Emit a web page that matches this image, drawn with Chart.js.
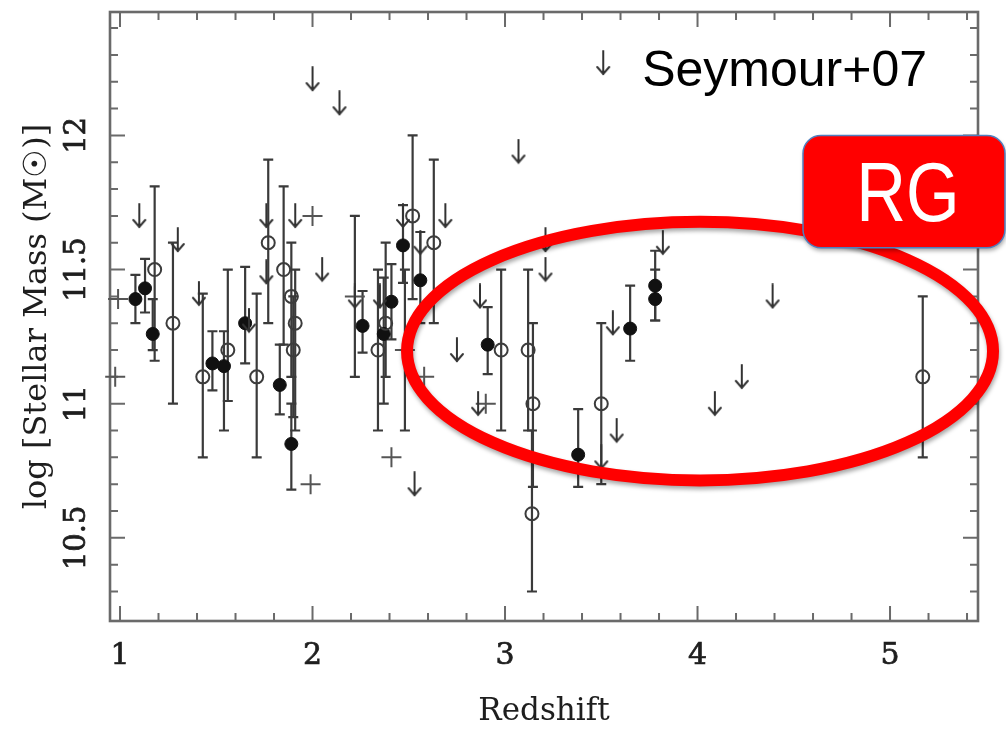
<!DOCTYPE html>
<html>
<head>
<meta charset="utf-8">
<script src="https://cdn.jsdelivr.net/npm/chart.js@4.4.0/dist/chart.umd.min.js"></script>
<style>
  html, body { margin: 0; padding: 0; background: #fff; }
</style>
</head>
<body>
<canvas id="massChart" width="1006" height="731"></canvas>
<script>
// Axis ranges and ticks
const xRange = [0.948, 5.457];
const yRange = [10.19, 12.46];
const xMajor = [1, 2, 3, 4, 5];
const xTickLabels = ['1', '2', '3', '4', '5'];
const xMinor = [1.2, 1.4, 1.6, 1.8, 2.2, 2.4, 2.6, 2.8, 3.2, 3.4, 3.6, 3.8, 4.2, 4.4, 4.6, 4.8, 5.2, 5.4];
const yMajor = [10.5, 11, 11.5, 12];
const yTickLabels = ['10.5', '11', '11.5', '12'];
const yMinor = [10.3, 10.4, 10.6, 10.7, 10.8, 10.9, 11.1, 11.2, 11.3, 11.4, 11.6, 11.7, 11.8, 11.9, 12.1, 12.2, 12.3, 12.4];

// Filled circles (with error bars)
const filledZ    = [1.08, 1.13, 1.17, 1.48, 1.54, 1.65, 1.83, 1.89, 2.26, 2.37, 2.41, 2.47, 2.56, 2.91, 3.38, 3.65, 3.78, 3.78];
const filledMass = [11.39, 11.43, 11.26, 11.15, 11.14, 11.30, 11.07, 10.85, 11.29, 11.26, 11.38, 11.59, 11.46, 11.22, 10.81, 11.28, 11.44, 11.39];
const filledLo   = [11.30, 11.34, 11.20, 11.05, 10.90, 11.15, 10.96, 10.68, 11.19, 11.00, 11.24, 11.45, 11.30, 11.11, 10.69, 11.16, 11.31, 11.31];
const filledHi   = [11.48, 11.54, 11.39, 11.27, 11.27, 11.51, 11.22, 11.00, 11.42, 11.47, 11.52, 11.74, 11.64, 11.36, 10.98, 11.44, 11.57, 11.50];

// Open circles (with error bars)
const openZ    = [1.18, 1.275, 1.43, 1.56, 1.71, 1.77, 1.85, 1.89, 1.91, 1.90, 2.34, 2.38, 2.52, 2.63, 2.98, 3.12, 3.145, 3.14, 3.50, 5.17];
const openMass = [11.50, 11.30, 11.10, 11.20, 11.10, 11.60, 11.50, 11.40, 11.30, 11.20, 11.20, 11.30, 11.70, 11.60, 11.20, 11.20, 11.00, 10.59, 11.00, 11.10];
const openLo   = [11.16, 11.00, 10.80, 11.01, 10.80, 11.30, 11.22, 11.10, 10.90, 10.95, 10.90, 11.10, 11.39, 11.30, 10.90, 10.90, 10.69, 10.30, 10.70, 10.80];
const openHi   = [11.81, 11.60, 11.41, 11.50, 11.41, 11.91, 11.81, 11.60, 11.50, 11.40, 11.50, 11.60, 12.00, 11.91, 11.50, 11.50, 11.30, 10.90, 11.30, 11.40];

// Plus signs (two of them carry error bars)
const plusZ    = [0.99, 0.975, 2.00, 1.99, 2.41, 2.58, 2.90, 2.22, 2.48];
const plusMass = [11.39, 11.10, 11.70, 10.70, 10.80, 11.10, 11.00, 11.40, 11.20];
const plusLo   = [null, null, null, null, null, null, null, 11.10, 10.90];
const plusHi   = [null, null, null, null, null, null, null, 11.70, 11.50];

// Upper limits (arrows)
const limitZ    = [1.10, 1.30, 1.41, 1.67, 1.76, 1.76, 1.91, 2.05, 2.00, 2.14, 2.22, 2.35, 2.47, 2.56, 2.69, 2.53, 2.75, 2.87, 2.86, 3.07, 3.21, 3.21, 3.50, 3.58, 3.56, 3.82, 4.39, 4.23, 4.09];
const limitMass = [11.70, 11.61, 11.41, 11.31, 11.70, 11.49, 11.70, 11.50, 12.21, 12.12, 11.40, 11.40, 11.70, 11.60, 11.70, 10.70, 11.20, 11.40, 11.00, 11.94, 11.61, 11.50, 10.80, 10.90, 11.30, 11.60, 11.40, 11.10, 11.00];

// Overlay annotations (data units)
const legendAt = { z: 3.51, mass: 12.27, text: 'Seymour+07' };
const ringAt = { z: 4.013, mass: 11.196, rz: 1.522, rmass: 0.482 };
const boxAt = { z0: 4.548, z1: 5.597, mass0: 12.0, mass1: 11.581, text: 'RG' };

const ink = '#1e1e1e';
const serif = 'DejaVu Serif';

function toPoints(xs, ys) {
    return xs.map((v, i) => ({ x: v, y: ys[i] }));
}

function makeArrow() {
    const c = document.createElement('canvas');
    c.width = 16; c.height = 26;
    const g = c.getContext('2d');
    g.strokeStyle = '#333';
    g.lineWidth = 2;
    g.lineCap = 'round';
    g.beginPath(); g.moveTo(8, 1); g.lineTo(8, 24); g.stroke();
    g.beginPath(); g.moveTo(2, 17); g.lineTo(8, 24); g.lineTo(14, 17); g.stroke();
    return c;
}
const arrowImg = makeArrow();

// error bars, drawn under the markers
const errorBars = {
    id: 'errorBars',
    beforeDatasetsDraw(chart) {
        const { ctx, scales: { x, y } } = chart;
        ctx.save();
        ctx.strokeStyle = '#3a3a3a';
        ctx.lineWidth = 2.2;
        chart.data.datasets.forEach(ds => {
            if (!ds.errLo) return;
            ds.data.forEach((p, i) => {
                const lo = ds.errLo[i], hi = ds.errHi[i];
                if (lo == null || hi == null) return;
                const px = x.getPixelForValue(p.x);
                const top = y.getPixelForValue(hi);
                const bot = y.getPixelForValue(lo);
                ctx.beginPath();
                ctx.moveTo(px, top); ctx.lineTo(px, bot);
                ctx.moveTo(px - 5, top); ctx.lineTo(px + 5, top);
                ctx.moveTo(px - 5, bot); ctx.lineTo(px + 5, bot);
                ctx.stroke();
            });
        });
        ctx.restore();
    }
};

// box round the plot with inward ticks on all four sides
const frameTicks = {
    id: 'frameTicks',
    beforeDatasetsDraw(chart) {
        const { ctx, chartArea: a, scales: { x, y } } = chart;
        ctx.save();
        ctx.strokeStyle = '#6a6a6a';
        ctx.lineWidth = 2;
        const tick = (vals, len) => {
            vals.forEach(v => {
                const px = x.getPixelForValue(v);
                ctx.moveTo(px, a.bottom); ctx.lineTo(px, a.bottom - len);
                ctx.moveTo(px, a.top); ctx.lineTo(px, a.top + len);
            });
        };
        const ytick = (vals, len) => {
            vals.forEach(v => {
                const py = y.getPixelForValue(v);
                ctx.moveTo(a.left, py); ctx.lineTo(a.left + len, py);
                ctx.moveTo(a.right, py); ctx.lineTo(a.right - len, py);
            });
        };
        ctx.beginPath();
        tick(xMajor, 15); tick(xMinor, 8);
        ytick(yMajor, 15); ytick(yMinor, 8);
        ctx.stroke();
        ctx.lineWidth = 2.6;
        ctx.strokeRect(a.left, a.top, a.right - a.left, a.bottom - a.top);
        ctx.restore();
    }
};

// red ring, RG box and the Seymour+07 label
const overlay = {
    id: 'overlay',
    afterDraw(chart) {
        const { ctx, scales: { x, y } } = chart;
        ctx.save();

        // legend arrow + text
        const lx = x.getPixelForValue(legendAt.z), ly = y.getPixelForValue(legendAt.mass);
        ctx.drawImage(arrowImg, lx - 8, ly - 13);
        ctx.fillStyle = '#000';
        ctx.font = '50px "Liberation Sans"';
        ctx.textBaseline = 'alphabetic';
        ctx.fillText(legendAt.text, lx + 39, ly + 23);

        // ellipse
        const cx = x.getPixelForValue(ringAt.z), cy = y.getPixelForValue(ringAt.mass);
        const rx = x.getPixelForValue(ringAt.z + ringAt.rz) - cx;
        const ry = cy - y.getPixelForValue(ringAt.mass + ringAt.rmass);
        ctx.shadowColor = 'rgba(0,0,0,0.35)';
        ctx.shadowBlur = 4; ctx.shadowOffsetX = 1; ctx.shadowOffsetY = 3;
        ctx.strokeStyle = '#ff0000';
        ctx.lineWidth = 12;
        ctx.beginPath();
        ctx.ellipse(cx, cy, rx, ry, 0, 0, Math.PI * 2);
        ctx.stroke();

        // RG box
        const bx0 = x.getPixelForValue(boxAt.z0), bx1 = x.getPixelForValue(boxAt.z1);
        const by0 = y.getPixelForValue(boxAt.mass0), by1 = y.getPixelForValue(boxAt.mass1);
        ctx.beginPath();
        ctx.roundRect(bx0, by0, bx1 - bx0, by1 - by0, 18);
        ctx.fillStyle = '#ff0000';
        ctx.fill();
        ctx.shadowColor = 'transparent';
        ctx.strokeStyle = '#4f7fbf';
        ctx.lineWidth = 1.5;
        ctx.stroke();
        ctx.fillStyle = '#fff';
        ctx.font = '84px "Liberation Sans"';
        ctx.textAlign = 'center';
        ctx.translate(bx0 + 105, by0 + 86);
        ctx.scale(0.82, 1);
        ctx.fillText(boxAt.text, 0, 0);
        ctx.restore();
    }
};

const ctx = document.getElementById('massChart').getContext('2d');
const massChart = new Chart(ctx, {
    type: 'scatter',
    data: {
        datasets: [
            {
                label: 'Upper limits',
                data: toPoints(limitZ, limitMass),
                pointStyle: arrowImg,
                clip: false
            },
            {
                label: 'Plus',
                data: toPoints(plusZ, plusMass),
                errLo: plusLo, errHi: plusHi,
                pointStyle: 'cross',
                pointRadius: 10,
                borderColor: '#555',
                borderWidth: 2,
                clip: false
            },
            {
                label: 'Open',
                data: toPoints(openZ, openMass),
                errLo: openLo, errHi: openHi,
                pointStyle: 'circle',
                pointRadius: 6.5,
                backgroundColor: 'rgba(0,0,0,0)',
                borderColor: '#3c3c3c',
                borderWidth: 2,
                clip: false
            },
            {
                label: 'Filled',
                data: toPoints(filledZ, filledMass),
                errLo: filledLo, errHi: filledHi,
                pointStyle: 'circle',
                pointRadius: 6.5,
                backgroundColor: '#111',
                borderColor: '#111',
                borderWidth: 1,
                clip: false
            }
        ]
    },
    options: {
        responsive: false,
        animation: false,
        devicePixelRatio: 1,
        events: [],
        layout: { padding: { left: 0, right: 28, top: 4, bottom: 0 } },
        plugins: { legend: { display: false }, tooltip: { enabled: false } },
        scales: {
            x: {
                type: 'linear',
                position: 'bottom',
                min: xRange[0], max: xRange[1],
                afterBuildTicks: s => { s.ticks = xMajor.map(v => ({ value: v })); },
                afterFit: s => { s.height = 110; s.paddingLeft = 0; s.paddingRight = 0; },
                grid: { display: false, drawTicks: false },
                border: { display: false },
                ticks: {
                    autoSkip: false, minRotation: 0, maxRotation: 0, padding: 17,
                    color: ink, textStrokeColor: ink, textStrokeWidth: 0.7,
                    font: { family: serif, size: 30 },
                    callback: (v, i) => xTickLabels[i]
                },
                title: {
                    display: true, text: 'Redshift', color: ink,
                    font: { family: serif, size: 31 }, padding: { top: 0, bottom: 0 }
                }
            },
            y: {
                type: 'linear',
                min: yRange[0], max: yRange[1],
                afterBuildTicks: s => { s.ticks = yMajor.map(v => ({ value: v })); },
                afterFit: s => { s.width = 110; s.paddingTop = 0; s.paddingBottom = 0; },
                grid: { display: false, drawTicks: false },
                border: { display: false },
                ticks: {
                    minRotation: 90, maxRotation: 90, crossAlign: 'center', padding: 0,
                    color: ink, textStrokeColor: ink, textStrokeWidth: 0.7,
                    font: { family: serif, size: 29 },
                    callback: (v, i) => yTickLabels[i]
                },
                title: {
                    display: true, text: 'log [Stellar Mass (M☉)]', color: ink,
                    font: { family: serif, size: 32 }, padding: { top: 18, bottom: 0 }
                }
            }
        }
    },
    plugins: [errorBars, frameTicks, overlay]
});
</script>
</body>
</html>
